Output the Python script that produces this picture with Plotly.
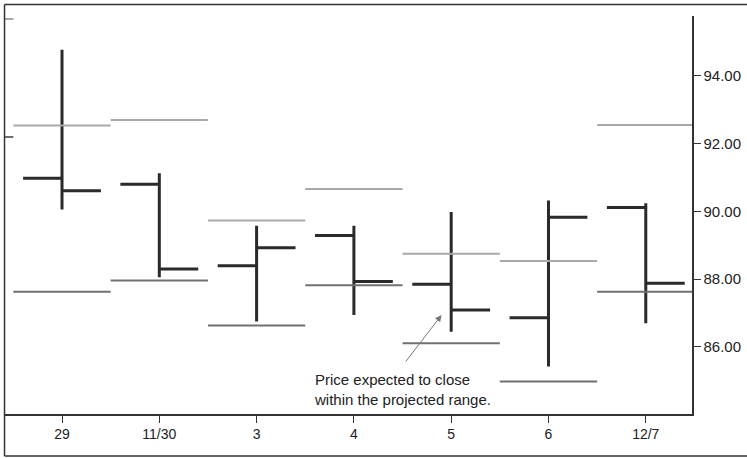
import plotly.graph_objects as go

# Trading days (category labels)
dates = ["29", "11/30", "3", "4", "5", "6", "12/7"]

# OHLC values
open_ = [90.98, 90.80, 88.40, 89.29, 87.85, 86.86, 90.12]
high = [94.77, 91.13, 89.58, 89.58, 89.98, 90.32, 90.24]
low = [90.06, 88.06, 86.75, 86.94, 86.45, 85.42, 86.70]
close = [90.61, 88.30, 88.93, 87.93, 87.09, 89.83, 87.88]

# Projected range for each day (first entry = prior day, partly visible)
range_days = [-1, 0, 1, 2, 3, 4, 5, 6]
range_hi = [95.68, 92.54, 92.70, 89.73, 90.66, 88.75, 88.54, 92.55]
range_lo = [92.20, 87.63, 87.96, 86.63, 87.82, 86.11, 84.98, 87.63]

y_ticks = [86, 88, 90, 92, 94]
y_tick_labels = ["86.00", "88.00", "90.00", "92.00", "94.00"]


def segments(days, vals):
    xs, ys = [], []
    for d, v in zip(days, vals):
        xs += [d - 0.5, d + 0.5, None]
        ys += [v, v, None]
    return xs, ys


fig = go.Figure()

hx, hy = segments(range_days, range_hi)
lx, ly = segments(range_days, range_lo)
fig.add_trace(go.Scatter(x=hx, y=hy, mode="lines",
                         line=dict(color="#a9a9a9", width=2),
                         hoverinfo="skip", showlegend=False))
fig.add_trace(go.Scatter(x=lx, y=ly, mode="lines",
                         line=dict(color="#707070", width=2),
                         hoverinfo="skip", showlegend=False))

fig.add_trace(go.Ohlc(
    x=list(range(len(dates))), open=open_, high=high, low=low, close=close,
    tickwidth=0.4,
    increasing=dict(line=dict(color="#2a2a2a", width=3)),
    decreasing=dict(line=dict(color="#2a2a2a", width=3)),
    showlegend=False, hoverinfo="skip"))

# arrow
fig.add_annotation(x=3.901, y=86.94, xref="x", yref="y", text="",
                   showarrow=True, ax=-37, ay=48, arrowhead=2,
                   arrowsize=1.3, arrowwidth=1, arrowcolor="#777777",
                   standoff=0, startstandoff=0)
# label
fig.add_annotation(x=2.569, y=84.75, xref="x", yref="y",
                   text="Price expected to close<br>within the projected range.",
                   showarrow=False, xanchor="left", yanchor="middle",
                   align="left",
                   font=dict(family="Liberation Sans, Arial, sans-serif",
                             size=15, color="#222222"))

line_col = "#333333"
# outer frame
fig.add_shape(type="line", xref="paper", yref="paper",
              x0=-0.0007, x1=1.09, y0=1.0289, y1=1.0289,
              line=dict(color=line_col, width=1.5))
fig.add_shape(type="line", xref="paper", yref="paper",
              x0=-0.0007, x1=-0.0007, y0=1.0289, y1=-0.1055,
              line=dict(color=line_col, width=1.5))
fig.add_shape(type="line", xref="paper", yref="paper",
              x0=-0.0007, x1=1.09, y0=-0.1055, y1=-0.1055,
              line=dict(color=line_col, width=1.5))

fig.update_layout(
    width=747, height=458,
    margin=dict(l=5, r=55, t=16, b=44),
    paper_bgcolor="white", plot_bgcolor="white",
    showlegend=False,
    font=dict(family="Liberation Sans, Arial, sans-serif", size=14,
              color="#222222"),
    xaxis=dict(range=[-0.586, 6.475], tickmode="array",
               tickvals=list(range(len(dates))), ticktext=dates,
               showgrid=False, zeroline=False, showline=True,
               linecolor=line_col, linewidth=1.5,
               ticks="outside", ticklen=7, tickcolor=line_col,
               rangeslider=dict(visible=False), fixedrange=True),
    yaxis=dict(range=[84.02, 95.77], side="right", tickmode="array",
               tickvals=y_ticks, ticktext=y_tick_labels,
               tickfont=dict(size=15),
               showgrid=False, zeroline=False, showline=True,
               linecolor=line_col, linewidth=1.5,
               ticks="outside", ticklen=7, tickcolor=line_col,
               fixedrange=True),
)

fig.write_html("out.html",
               config={"displayModeBar": False, "staticPlot": True},
               post_script="document.body.style.margin='0px';"
                           "document.body.style.overflow='hidden';")
